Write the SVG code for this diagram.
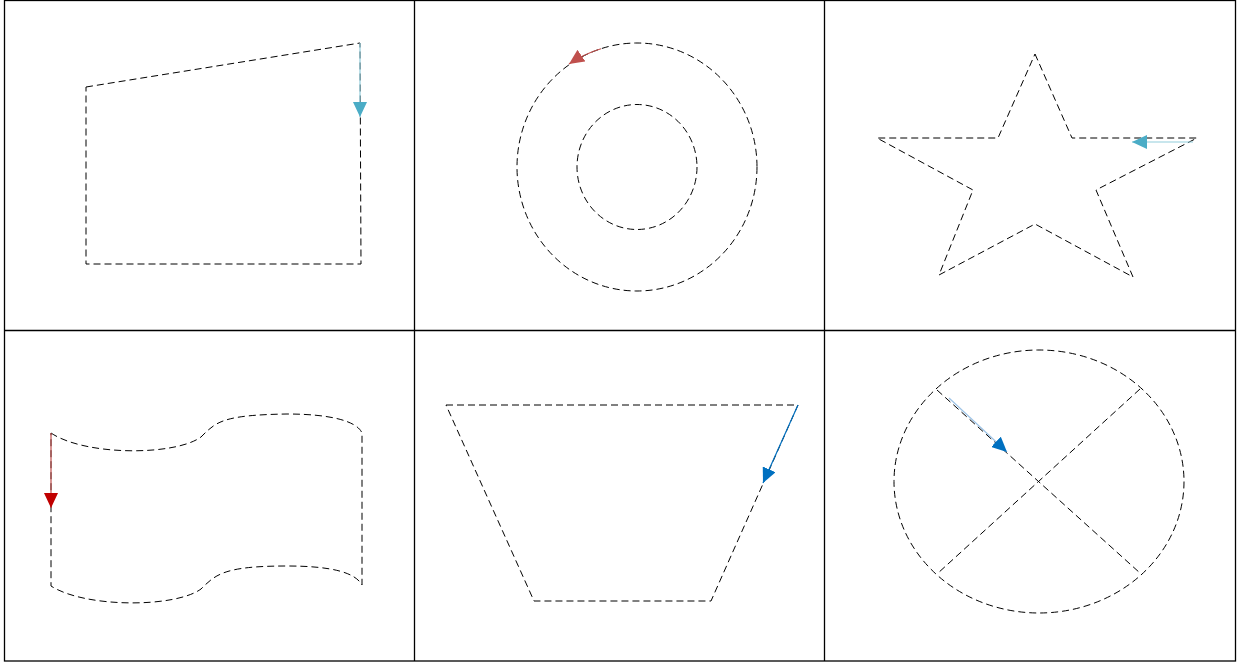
<svg xmlns="http://www.w3.org/2000/svg" width="1242" height="663" viewBox="0 0 1242 663">
<style>
.grid{fill:none;stroke:#000;stroke-width:1.3}
.shape{fill:none;stroke:#000;stroke-width:1;stroke-dasharray:7,4}
.conn{fill:none;stroke-width:1.2}
</style>
<defs>
<marker id="hCyan" viewBox="0 0 15 14" refX="15" refY="7" markerUnits="userSpaceOnUse" markerWidth="15" markerHeight="14" orient="auto"><path d="M0,0 L15,7 L0,14 Z" fill="#4BACC6"/></marker>
<marker id="hRed" viewBox="0 0 15 14" refX="15" refY="7" markerUnits="userSpaceOnUse" markerWidth="15" markerHeight="14" orient="auto"><path d="M0,0 L15,7 L0,14 Z" fill="#C0504D"/></marker>
<marker id="hDark" viewBox="0 0 15 14" refX="15" refY="7" markerUnits="userSpaceOnUse" markerWidth="15" markerHeight="14" orient="auto"><path d="M0,0 L15,7 L0,14 Z" fill="#C00000"/></marker>
<marker id="hBlue" viewBox="0 0 15 14" refX="15" refY="7" markerUnits="userSpaceOnUse" markerWidth="15" markerHeight="14" orient="auto"><path d="M0,0 L15,7 L0,14 Z" fill="#0070C0"/></marker>
</defs>
<rect width="1242" height="663" fill="#fff"/>
<g id="grid">
<rect class="grid" x="4.5" y="0.5" width="1231" height="660.5"/>
<line class="grid" x1="414.5" y1="0" x2="414.5" y2="661"/>
<line class="grid" x1="824.5" y1="0" x2="824.5" y2="661"/>
<line class="grid" x1="4" y1="330.5" x2="1236" y2="330.5"/>
</g>
<g id="quad"><path class="shape" d="M86,87 L360,43 L361,264 L86,264 Z"/></g>
<g id="rings">
<ellipse class="shape" cx="637" cy="167" rx="120" ry="124"/>
<ellipse class="shape" cx="637" cy="167" rx="60" ry="62.5"/>
</g>
<g id="star"><path class="shape" d="M1035,54 L1072,138 L1197,138 L1096,190 L1133,277 L1035,224 L939,275 L973,190 L877,138 L998,138 Z"/></g>
<g id="wave"><path class="shape" d="M51,433 C85,456 175,456 201,437 C216,422 222,415 287,414 C330,414 357,421 362,433 L362,585 C355,572 330,566 287,566 C225,566 216,574 201,589 C175,608 85,608 51,586 Z"/></g>
<g id="trapezoid"><path class="shape" d="M446,405 L798,405 L711,601 L534,601 Z"/></g>
<g id="crossCircle">
<ellipse class="shape" cx="1039" cy="481.5" rx="145" ry="131.5"/>
<line class="shape" x1="937" y1="390" x2="1140" y2="573"/>
<line class="shape" x1="1140" y1="389" x2="937" y2="574"/>
</g>
<g id="connectors">
<line class="conn" x1="360" y1="43" x2="360" y2="117" stroke="#92CDDC" marker-end="url(#hCyan)"/>
<path class="conn" d="M601,48.7 A120,124 0 0 0 569,64" stroke="#C0504D" marker-end="url(#hRed)"/>
<line class="conn" x1="1193" y1="142" x2="1132" y2="142" stroke="#92CDDC" stroke-width="2" marker-end="url(#hCyan)"/>
<line class="conn" x1="51" y1="433" x2="51" y2="508" stroke="#C0504D" marker-end="url(#hDark)"/>
<line class="conn" x1="798" y1="405" x2="763" y2="483" stroke="#0070C0" marker-end="url(#hBlue)"/>
<line class="conn" x1="949" y1="398" x2="1007" y2="452" stroke="#9DC3E6" marker-end="url(#hBlue)"/>
</g>
</svg>
